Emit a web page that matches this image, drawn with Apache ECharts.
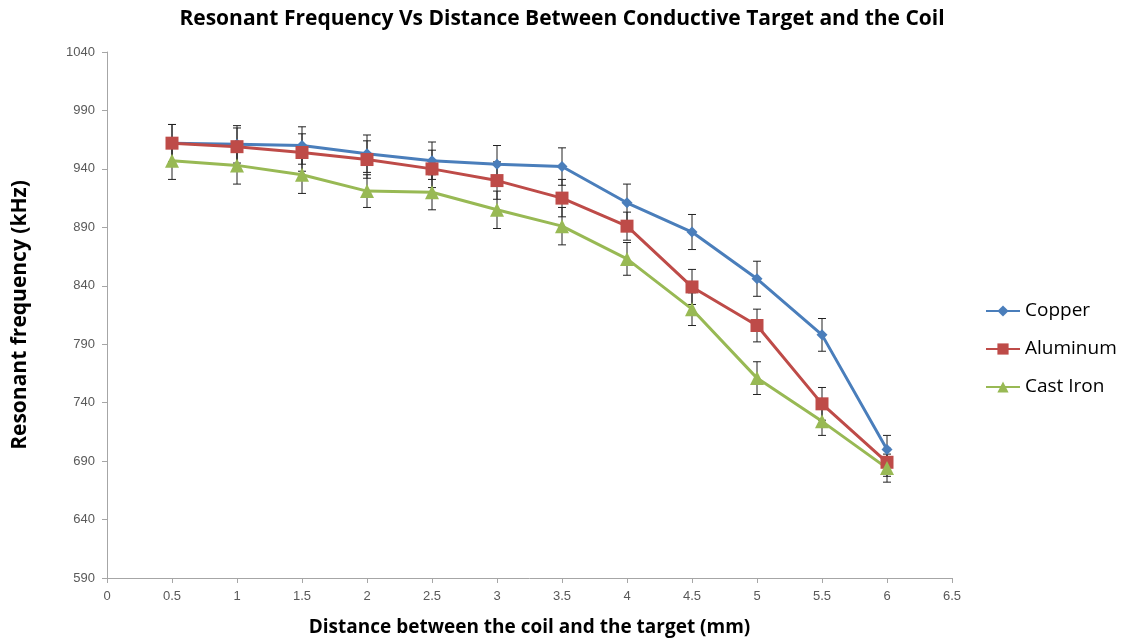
<!DOCTYPE html>
<html>
<head>
<meta charset="utf-8">
<script src="https://cdn.jsdelivr.net/npm/echarts@6/dist/echarts.min.js"></script>
<style>
  html, body { margin: 0; padding: 0; background: #fff; }
  #chart { width: 1123px; height: 643px; }
</style>
</head>
<body>
<div id="chart"></div>
<script>
// distance (mm)
const distance = [0.5, 1, 1.5, 2, 2.5, 3, 3.5, 4, 4.5, 5, 5.5, 6]
// resonant frequency (kHz)
const copper = [962, 961, 960, 953, 947, 944, 942, 911, 886, 846, 798, 700]
const aluminum = [962, 959, 954, 948, 940, 930, 915, 891, 839, 806, 739, 689]
const castIron = [947, 943, 935, 921, 920, 905, 891, 863, 820, 761, 724, 684]
// error bar half-widths (kHz)
const copperErr = [16, 16, 16, 16, 16, 16, 16, 16, 15, 15, 14, 12]
const aluminumErr = [16, 16, 16, 16, 16, 16, 16, 12, 15, 14, 14, 12]
const castIronErr = [16, 16, 16, 14, 15, 16, 16, 14, 14, 14, 12, 12]

const names = ['Copper', 'Aluminum', 'Cast Iron']
const colors = ['#4A7EBB', '#BE4B48', '#98B954']
const symbols = ['diamond', 'rect', 'triangle']
const symbolSizes = [11, 13, 14]
const values = [copper, aluminum, castIron]
const errors = [copperErr, aluminumErr, castIronErr]

const chart = echarts.init(document.getElementById('chart'))

// 误差线
function errorSeries(i) {
  return {
    type: 'custom',
    name: names[i] + ' err',
    z: 1,
    silent: true,
    renderItem: function (params, api) {
      const x = api.value(0)
      const top = api.coord([x, api.value(1) + api.value(2)])
      const bot = api.coord([x, api.value(1) - api.value(2)])
      const w = 4
      const style = { stroke: '#222', lineWidth: 1 }
      return {
        type: 'group',
        children: [
          { type: 'line', shape: { x1: top[0], y1: top[1], x2: bot[0], y2: bot[1] }, style: style },
          { type: 'line', shape: { x1: top[0] - w, y1: top[1], x2: top[0] + w, y2: top[1] }, style: style },
          { type: 'line', shape: { x1: bot[0] - w, y1: bot[1], x2: bot[0] + w, y2: bot[1] }, style: style },
        ],
      }
    },
    encode: { x: 0, y: 1 },
    data: distance.map((d, k) => [d, values[i][k], errors[i][k]]),
  }
}

const series = []
for (let i = 0; i < 3; i++) {
  series.push(errorSeries(i))
}
for (let i = 0; i < 3; i++) {
  series.push({
    name: names[i],
    type: 'line',
    z: 2,
    symbol: symbols[i],
    symbolSize: symbolSizes[i],
    showAllSymbol: true,
    color: colors[i],
    lineStyle: { width: 3, color: colors[i] },
    itemStyle: { color: colors[i] },
    data: distance.map((d, k) => [d, values[i][k]]),
  })
}

const axisText = { color: '#595959', fontSize: 13, fontFamily: 'Liberation Sans Narrow, Liberation Sans, sans-serif' }

const option = {
  animation: false,
  title: {
    text: 'Resonant Frequency Vs Distance Between Conductive Target and the Coil',
    left: 557,
    textAlign: 'center',
    top: 4,
    textStyle: { fontSize: 21, fontWeight: 'bold', color: '#000', fontFamily: 'Open Sans, sans-serif' },
  },
  legend: {
    data: names,
    orient: 'vertical',
    left: 980,
    top: 296,
    itemGap: 18,
    itemWidth: 34,
    itemHeight: 14,
    textStyle: { fontSize: 19, lineHeight: 20, color: '#000', fontFamily: 'Open Sans, sans-serif' },
  },
  grid: { left: 107, right: 171, top: 52, bottom: 65 },
  xAxis: {
    type: 'value',
    min: 0,
    max: 6.5,
    interval: 0.5,
    name: 'Distance between the coil and the target (mm)',
    nameLocation: 'middle',
    nameGap: 40,
    nameTextStyle: { fontSize: 19, fontWeight: 'bold', color: '#000', fontFamily: 'Open Sans, sans-serif' },
    axisLine: { show: true, lineStyle: { color: '#A6A6A6' } },
    axisTick: { show: true, inside: false, length: 5, lineStyle: { color: '#A6A6A6' } },
    axisLabel: Object.assign({ margin: 12 }, axisText),
    splitLine: { show: false },
  },
  yAxis: {
    type: 'value',
    min: 590,
    max: 1040,
    interval: 50,
    name: 'Resonant frequency (kHz)',
    nameLocation: 'middle',
    nameGap: 76,
    nameRotate: 90,
    nameTextStyle: { fontSize: 21, fontWeight: 'bold', color: '#000', fontFamily: 'Open Sans, sans-serif' },
    axisLine: { show: true, lineStyle: { color: '#A6A6A6' } },
    axisTick: { show: true, length: 5, lineStyle: { color: '#A6A6A6' } },
    axisLabel: Object.assign({ margin: 12, formatter: v => String(v) }, axisText),
    splitLine: { show: false },
  },
  series: series,
}

chart.setOption(option)
</script>
</body>
</html>
